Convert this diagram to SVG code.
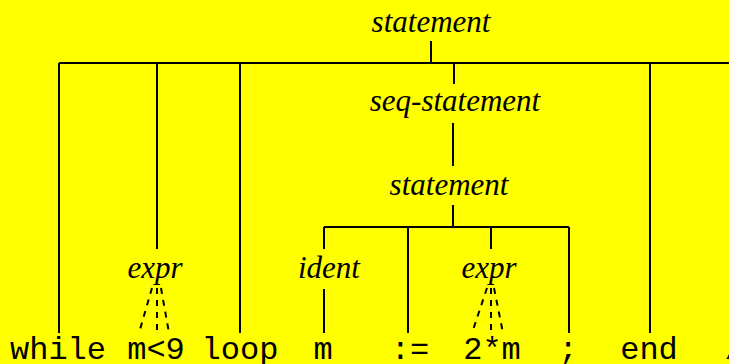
<svg xmlns="http://www.w3.org/2000/svg" width="729" height="364" viewBox="0 0 729 364">
<style>
.nt{font-family:"Liberation Serif","Times New Roman",serif;font-style:italic;font-size:31px;fill:#000;text-anchor:middle}
.tk{font-family:"Liberation Mono","Courier New",monospace;font-size:32px;fill:#000;text-anchor:middle}
.ln{stroke:#000;stroke-width:2;fill:none}
.ds{stroke:#000;stroke-width:2;fill:none;stroke-dasharray:6 6}
</style>
<rect x="0" y="0" width="729" height="364" fill="#ffff00"/>
<g id="connectors">
<path class="ln" d="M431 41V63M59 63H740M59 63V333M157 63V249M240 63V333M454 63V84M650 63V333M453 123V166M453 205V227M324 227H569M324 227V249M408 227V333M491 227V249M569 227V333M324 289V333"/>
<path class="ds" d="M152 288L139 333M157 288V333M161 288L169 333M487 288L472 333M491 288V333M494 288L503 333"/>
</g>
<g id="n-statement-top"><text class="nt" x="431" y="32">statement</text></g>
<g id="n-seq-statement"><text class="nt" x="455" y="111">seq-statement</text></g>
<g id="n-statement-mid"><text class="nt" x="449" y="195">statement</text></g>
<g id="n-expr-1"><text class="nt" x="155" y="278">expr</text></g>
<g id="n-ident"><text class="nt" x="329" y="278">ident</text></g>
<g id="n-expr-2"><text class="nt" x="489" y="278">expr</text></g>
<g id="t-while"><text class="tk" x="58" y="359">while</text></g>
<g id="t-cond"><text class="tk" x="156" y="359">m&lt;9</text></g>
<g id="t-loop"><text class="tk" x="240" y="359">loop</text></g>
<g id="t-m"><text class="tk" x="323" y="359">m</text></g>
<g id="t-assign"><text class="tk" x="410" y="359">:=</text></g>
<g id="t-2m"><text class="tk" x="492" y="359">2*m</text></g>
<g id="t-semi"><text class="tk" x="568" y="359">;</text></g>
<g id="t-end"><text class="tk" x="649" y="359">end</text></g>
<g id="t-slash"><text class="tk" x="734" y="359">/</text></g>
</svg>
